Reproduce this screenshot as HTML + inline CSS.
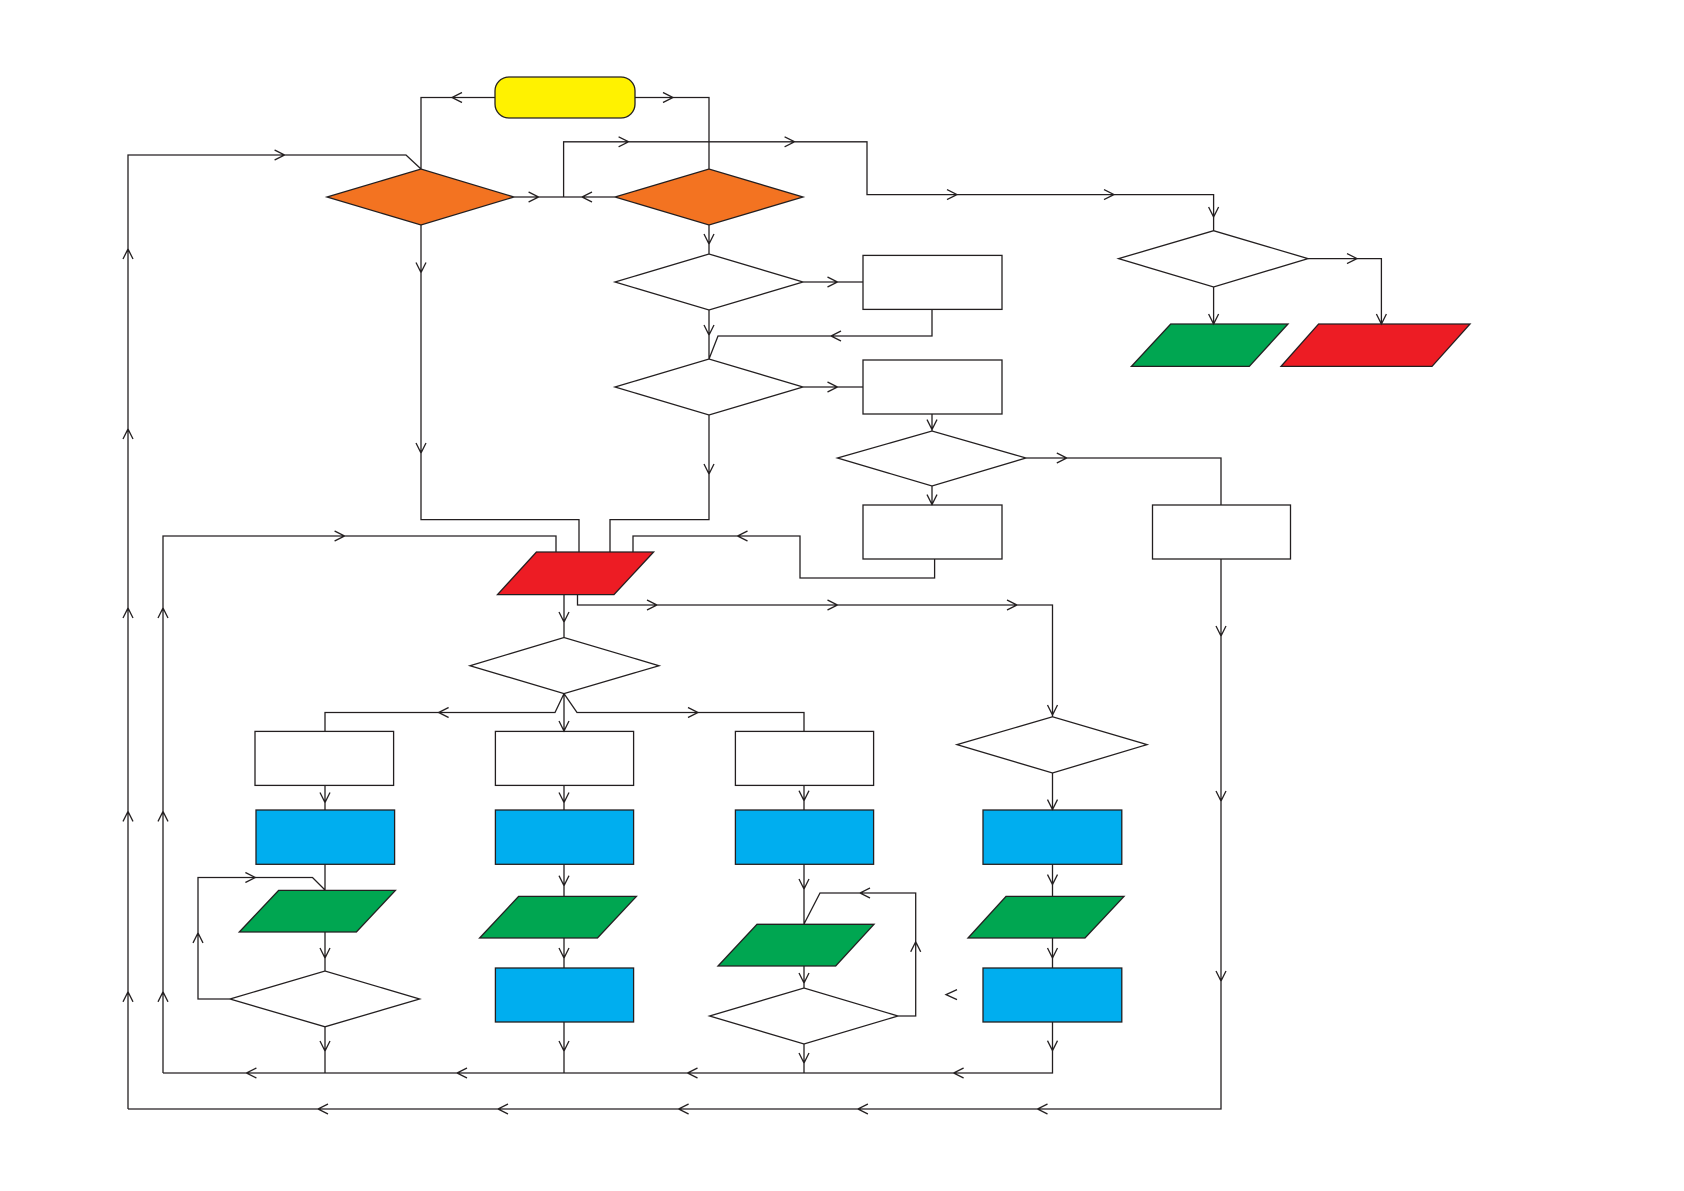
<!DOCTYPE html>
<html><head><meta charset="utf-8"><style>html,body{margin:0;padding:0;background:#fff;}svg{display:block}</style></head>
<body>
<svg width="1684" height="1191" viewBox="0 0 1684 1191" xmlns="http://www.w3.org/2000/svg">
<g fill="none" stroke="#231f20" stroke-width="1.3">
<!-- connectors -->
<path d="M495,97.5 H421 V169"/>
<path d="M635,97.5 H709 V169"/>
<path d="M128,1109 H1221 V559"/>
<path d="M128,1109 V155 H406 L421,169"/>
<path d="M163,1073 V536 H556 V552"/>
<path d="M163,1073 H1052.5 V1022"/>
<path d="M514,197 H615"/>
<path d="M563.6,197 V141.8 H867 V194.6 H1213.6 V230.7"/>
<path d="M421,225 V519.6 H579 V552"/>
<path d="M709,415 V519.6 H610 V552"/>
<path d="M934.6,559 V578 H800 V536 H633 V552"/>
<path d="M709,225 V254"/>
<path d="M709,310 V359"/>
<path d="M932,309 V336 H718 L709,359"/>
<path d="M803,282 H863"/>
<path d="M803,387 H863"/>
<path d="M932,414 V431"/>
<path d="M1026,458 H1221 V505"/>
<path d="M932,486 V505"/>
<path d="M1308,258.6 H1381.4 V324"/>
<path d="M1213.6,287 V324"/>
<path d="M564,595 V637.5"/>
<path d="M577.5,595 V605 H1052.5 V716.8"/>
<path d="M564,693.6 V731.4"/>
<path d="M564,693.6 L555,712.5 H325 V731.4"/>
<path d="M564,693.6 L577,712.5 H804 V731.4"/>
<path d="M325,785 V810 M325,864 V890 M325,932 V971 M325,1027 V1073"/>
<path d="M230,999 H198 V877.5 H312.5 L325,890"/>
<path d="M564,785 V810 M564,864 V896 M564,938 V968 M564,1022 V1073"/>
<path d="M804,785 V810 M804,864 V924 M804,966 V988 M804,1044 V1073"/>
<path d="M898,1016 H915.7 V893 H820 L804,924"/>
<path d="M1052.5,773 V810 M1052.5,864 V896 M1052.5,938 V968"/>
</g>
<!-- shapes -->
<g stroke="#231f20" stroke-width="1.3">
<rect x="495" y="77" width="140" height="41" rx="14" fill="#fff200"/>
<polygon points="327,197 421,169 514,197 421,225" fill="#f37321"/>
<polygon points="615,197 709,169 803,197 709,225" fill="#f37321"/>
<polygon points="615,282 709,254 803,282 709,310" fill="#fff"/>
<polygon points="615,387 709,359 803,387 709,415" fill="#fff"/>
<polygon points="837.5,458 932,431 1026,458 932,486" fill="#fff"/>
<polygon points="1118.6,258.6 1213.6,230.7 1308,258.6 1213.6,287" fill="#fff"/>
<rect x="863" y="255.4" width="139" height="54" fill="#fff"/>
<rect x="863" y="360" width="139" height="54" fill="#fff"/>
<rect x="863" y="505" width="139" height="54" fill="#fff"/>
<rect x="1152.5" y="505" width="138" height="54" fill="#fff"/>
<polygon points="1170.7,324 1288,324 1249.3,366.4 1131.4,366.4" fill="#00a651"/>
<polygon points="1318.6,324 1470,324 1432,366.4 1281,366.4" fill="#ed1c24"/>
<polygon points="536.4,552 653.6,552 614,594.6 497.5,594.6" fill="#ed1c24"/>
<polygon points="470,665.7 564,637.5 659,665.7 564,693.6" fill="#fff"/>
<polygon points="957,744.6 1052.5,716.8 1147,744.6 1052.5,773" fill="#fff"/>
<rect x="255" y="731.4" width="138.6" height="54" fill="#fff"/>
<rect x="495.4" y="731.4" width="138.2" height="54" fill="#fff"/>
<rect x="735.4" y="731.4" width="138.2" height="54" fill="#fff"/>
<rect x="256" y="810" width="138.6" height="54.3" fill="#00aeef"/>
<rect x="495.4" y="810" width="138.2" height="54.3" fill="#00aeef"/>
<rect x="735.4" y="810" width="138.2" height="54.3" fill="#00aeef"/>
<rect x="983" y="810" width="138.8" height="54.3" fill="#00aeef"/>
<rect x="495.4" y="968" width="138.2" height="54" fill="#00aeef"/>
<rect x="983" y="968" width="138.8" height="54" fill="#00aeef"/>
<polygon points="278.6,890.4 395.4,890.4 356.4,932 239.3,932" fill="#00a651"/>
<polygon points="518.6,896.4 636.4,896.4 597.5,938 479.6,938" fill="#00a651"/>
<polygon points="757,924.3 874,924.3 835.7,966 718,966" fill="#00a651"/>
<polygon points="1006,896.4 1124,896.4 1085,938 968,938" fill="#00a651"/>
<polygon points="230,999 325,971 419.6,999 325,1026.8" fill="#fff"/>
<polygon points="709.6,1016 804,988 898,1016 804,1044" fill="#fff"/>
</g>
<!-- arrowheads -->
<g fill="none" stroke="#231f20" stroke-width="1.3">
<!-- left-pointing: M x+10,y-5 L x,y L x+10,y+5 -->
<path d="M462,92.5 L452,97.5 L462,102.5"/>
<path d="M592,192 L582,197 L592,202"/>
<path d="M841,331 L831,336 L841,341"/>
<path d="M747.5,531 L737.5,536 L747.5,541"/>
<path d="M448.6,707.5 L438.6,712.5 L448.6,717.5"/>
<path d="M870,888 L860,893 L870,898"/>
<path d="M256.4,1068 L246.4,1073 L256.4,1078"/>
<path d="M467,1068 L457,1073 L467,1078"/>
<path d="M697.5,1068 L687.5,1073 L697.5,1078"/>
<path d="M963.6,1068 L953.6,1073 L963.6,1078"/>
<path d="M328,1104 L318,1109 L328,1114"/>
<path d="M508,1104 L498,1109 L508,1114"/>
<path d="M688.6,1104 L678.6,1109 L688.6,1114"/>
<path d="M867.9,1104 L857.9,1109 L867.9,1114"/>
<path d="M1047.5,1104 L1037.5,1109 L1047.5,1114"/>
<path d="M957,989.6 L946,994.6 L957,999.6"/>
<!-- right-pointing -->
<path d="M663,92.5 L673,97.5 L663,102.5"/>
<path d="M618.6,136.8 L628.6,141.8 L618.6,146.8"/>
<path d="M784.6,136.8 L794.6,141.8 L784.6,146.8"/>
<path d="M947,189.6 L957,194.6 L947,199.6"/>
<path d="M1104,189.6 L1114,194.6 L1104,199.6"/>
<path d="M1347,253.6 L1357,258.6 L1347,263.6"/>
<path d="M528.6,192 L538.6,197 L528.6,202"/>
<path d="M274.6,150 L284.6,155 L274.6,160"/>
<path d="M334.6,531 L344.6,536 L334.6,541"/>
<path d="M827.5,277 L837.5,282 L827.5,287"/>
<path d="M827.5,382 L837.5,387 L827.5,392"/>
<path d="M1056.8,453 L1066.8,458 L1056.8,463"/>
<path d="M647,600 L657,605 L647,610"/>
<path d="M827.5,600 L837.5,605 L827.5,610"/>
<path d="M1007,600 L1017,605 L1007,610"/>
<path d="M688,707.5 L698,712.5 L688,717.5"/>
<path d="M245.4,872.5 L255.4,877.5 L245.4,882.5"/>
<!-- down-pointing: M x-5,y-10 L x,y L x+5,y-10 -->
<path d="M1208.6,207 L1213.6,217 L1218.6,207"/>
<path d="M1208.6,314 L1213.6,324 L1218.6,314"/>
<path d="M1376.4,314 L1381.4,324 L1386.4,314"/>
<path d="M416,262.5 L421,272.5 L426,262.5"/>
<path d="M416,443 L421,453 L426,443"/>
<path d="M704,234 L709,244 L714,234"/>
<path d="M704,325 L709,335 L714,325"/>
<path d="M704,464 L709,474 L714,464"/>
<path d="M927,419.6 L932,429.6 L937,419.6"/>
<path d="M927,494.6 L932,504.6 L937,494.6"/>
<path d="M559,612 L564,622 L569,612"/>
<path d="M559,721 L564,731 L569,721"/>
<path d="M320,792.5 L325,802.5 L330,792.5"/>
<path d="M559,792.5 L564,802.5 L569,792.5"/>
<path d="M799,790.7 L804,800.7 L809,790.7"/>
<path d="M559,875.7 L564,885.7 L569,875.7"/>
<path d="M559,948 L564,958 L569,948"/>
<path d="M320,948 L325,958 L330,948"/>
<path d="M320,1041 L325,1051 L330,1041"/>
<path d="M559,1041 L564,1051 L569,1041"/>
<path d="M799,879 L804,889 L809,879"/>
<path d="M799,973 L804,983 L809,973"/>
<path d="M799,1053 L804,1063 L809,1053"/>
<path d="M1047.5,705 L1052.5,715 L1057.5,705"/>
<path d="M1047.5,799.6 L1052.5,809.6 L1057.5,799.6"/>
<path d="M1047.5,874.6 L1052.5,884.6 L1057.5,874.6"/>
<path d="M1047.5,948 L1052.5,958 L1057.5,948"/>
<path d="M1047.5,1040.7 L1052.5,1050.7 L1057.5,1040.7"/>
<path d="M1216,626 L1221,636 L1226,626"/>
<path d="M1216,791 L1221,801 L1226,791"/>
<path d="M1216,971 L1221,981 L1226,971"/>
<!-- up-pointing -->
<path d="M123,259 L128,249 L133,259"/>
<path d="M123,439 L128,429 L133,439"/>
<path d="M123,618 L128,608 L133,618"/>
<path d="M123,821.4 L128,811.4 L133,821.4"/>
<path d="M123,1001.8 L128,991.8 L133,1001.8"/>
<path d="M158,618 L163,608 L168,618"/>
<path d="M158,821.4 L163,811.4 L168,821.4"/>
<path d="M158,1001.8 L163,991.8 L168,1001.8"/>
<path d="M193,942.9 L198,932.9 L203,942.9"/>
<path d="M910.7,951.8 L915.7,941.8 L920.7,951.8"/>
</g>
</svg>
</body></html>
